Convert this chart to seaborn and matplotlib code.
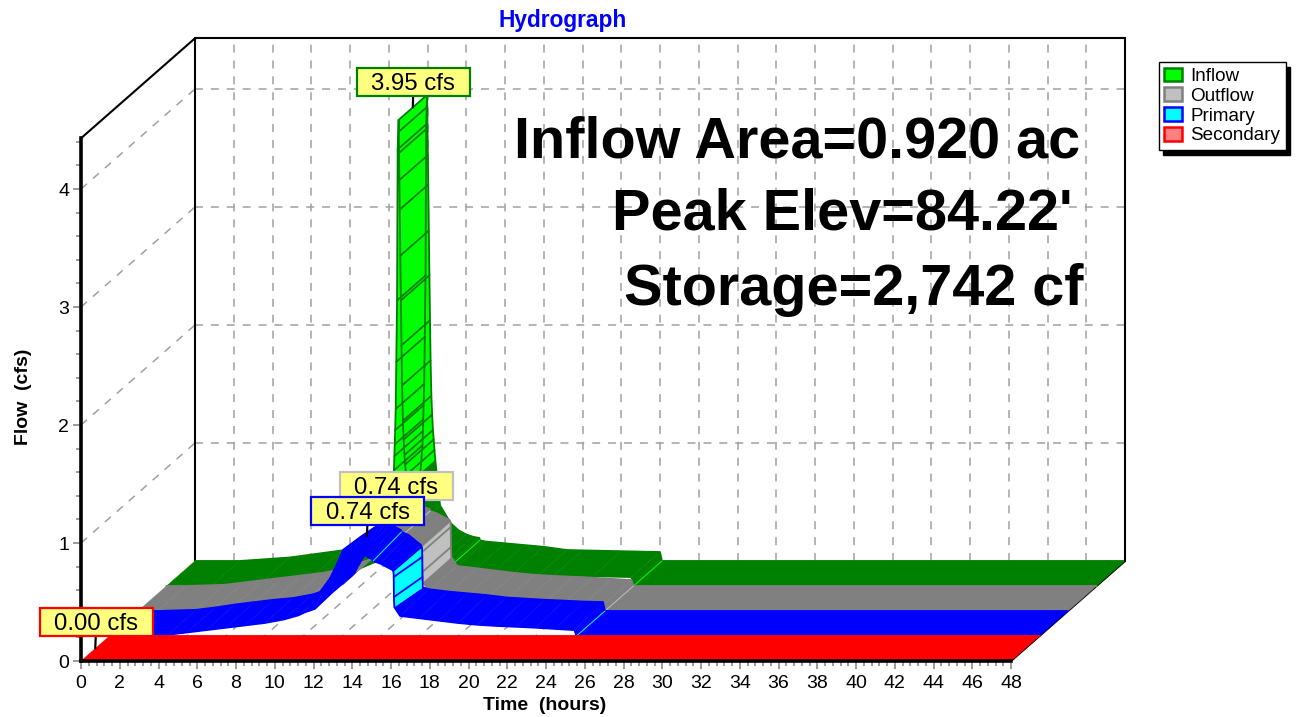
import matplotlib
matplotlib.use("Agg")
import matplotlib.pyplot as plt
import numpy as np
import pandas as pd
import seaborn as sns
from matplotlib.patches import Patch, Polygon
from matplotlib.path import Path

# ---- data (hours, cfs) ----
inflow_t = [0, 2.3, 4.9, 7.6, 9, 10, 11, 11.5, 11.74, 11.76, 11.78, 11.8, 11.83, 11.86, 11.9, 11.93, 11.98, 11.99, 12.0, 12.02, 12.04,
            12.07, 12.1, 12.13, 12.16, 12.2, 12.24, 12.28, 12.32, 12.36, 12.4, 12.48, 12.56, 12.65, 13.2, 13.6,
            14, 14.35, 14.68, 14.7, 15, 16, 17, 18, 19.2, 20, 22, 24, 24.1, 48]
inflow_q = [0, 0, .03, .09, .12, .15, .22, .45, .98, 1.1, 1.2, 1.32, 1.5, 1.9, 2.42, 3.7, 3.95, 3.85, 3.67, 3.44, 3.19,
            2.8, 2.42, 2.04, 1.7, 1.4, 1.24, 1.11, 1.03, .94, .86, .73, .6, .47, .32, .26,
            .225, .205, .195, .175, .165, .15, .135, .12, .093, .09, .083, .076, 0, 0]
route_t = [0, 1, 3, 4, 5, 6, 7, 8, 9, 9.75, 10.07, 10.6, 11.5, 12.5, 12.67, 12.83, 13.03, 13.3, 13.58, 13.6,
           13.96, 14.6, 14.66, 14.67, 14.68, 14.7, 15, 16, 17, 18, 19, 20, 21, 22, 23, 24, 24.1, 48]
route_near = [0, 0, .01, .03, .05, .07, .09, .11, .14, .175, .20, .23, .37, .51, .54, .68, .71, .67, .65, .635,
              .615, .56, .54, .50, .33, .245, .17, .15, .13, .11, .095, .085, .078, .07, .06, .05, 0, 0]
route_far = [0, 0, .01, .03, .055, .075, .095, .11, .14, .18, .32, .52, .63, .74, .74, .74, .73, .71, .685, .67,
             .645, .56, .534, .458, .288, .20, .185, .165, .15, .135, .115, .105, .095, .088, .08, .076, 0, 0]
secondary_t = [0, 48]
secondary_q = [0, 0]

series_names = ["Inflow", "Outflow", "Primary", "Secondary"]
dark_colors = ["#008000", "#808080", "#0000ff", "#ff0000"]
bright_colors = ["#00ff00", "#c0c0c0", "#00ffff", "#ff8080"]

peak_labels = ["3.95 cfs", "0.74 cfs", "0.74 cfs", "0.00 cfs"]
peak_times = [11.98, 12.83, 12.55, 0.0]
peak_flows = [3.95, 0.74, 0.74, 0.0]
peak_depth = [3, 2, 1, 0]
peak_edges = ["#008000", "#c0c0c0", "#0000ff", "#ff0000"]
label_offsets = [(0.5, 23.5), (-4.5, 23.5), (1, 23.5), (1, 24.5)]
info_lines = ["Inflow Area=0.920 ac", "Peak Elev=84.22'", "Storage=2,742 cf"]

# ---- layout (pixels of the 1296x717 picture) ----
W, H = 1296, 717
PX_H, PX_Q = 19.375, 118.0
DX, DY = 28.5 / PX_H, 25.0 / PX_Q     # shift per series in depth, in hours and cfs
T_MAX, Q_TOP = 48, 4.43
DEPTH = 4

sns.set_theme(style="white", rc={"axes.grid": False})
plt.rcParams["font.family"] = ["Liberation Sans", "DejaVu Sans"]
FS = 14

fig = plt.figure(figsize=(W / 100, H / 100), dpi=100, facecolor="white")
ax = fig.add_axes([81 / W, (H - 661) / H, (1124 - 81) / W, (661 - 38) / H])
ax.set_xlim(0, (1124 - 81) / PX_H)
ax.set_ylim(0, (661 - 38) / PX_Q)
ax.patch.set_alpha(0)

# ---- walls and grid ----
grid = dict(color="#a0a0a0", lw=1.1, ls=(0, (5.2, 5.2)), zorder=1)
for t in range(2, T_MAX, 2):
    ax.plot([t + DEPTH * DX] * 2, [DEPTH * DY, Q_TOP + DEPTH * DY], **grid)
for t in range(2, T_MAX + 1, 2):
    ax.plot([t, t + DEPTH * DX], [0, DEPTH * DY], **grid)
for q in range(1, 5):
    ax.plot([DEPTH * DX, T_MAX + DEPTH * DX], [q + DEPTH * DY] * 2, **grid)
    ax.plot([0, DEPTH * DX], [q, q + DEPTH * DY], **grid)
wall = dict(color="black", lw=1.5, zorder=2, clip_on=False)
ax.plot([DEPTH * DX] * 2, [DEPTH * DY, Q_TOP + DEPTH * DY], **wall)
ax.plot([DEPTH * DX, T_MAX + DEPTH * DX], [Q_TOP + DEPTH * DY] * 2, **wall)
ax.plot([T_MAX + DEPTH * DX] * 2, [DEPTH * DY, Q_TOP + DEPTH * DY], **wall)
ax.plot([0, DEPTH * DX], [Q_TOP, Q_TOP + DEPTH * DY], **wall)
ax.plot([T_MAX, T_MAX + DEPTH * DX], [0, DEPTH * DY], **wall)


def ribbon(t, near, far, k, dark, bright, z):
    """Strip for series depth k: near curve in plane k, far curve in plane k+1."""
    t, near, far = map(np.asarray, (t, near, far))
    x0, y0 = t + k * DX, near + k * DY
    x1, y1 = t + (k + 1) * DX, far + (k + 1) * DY
    drop = near[:-1] - near[1:]
    slope = drop * PX_Q / ((t[1:] - t[:-1]) * PX_H)
    steep = np.abs(slope) > 11
    step = (slope > 2.5) & ~steep & (drop <= .08)
    for i in range(len(t) - 1):
        c = bright if steep[i] else dark
        ax.add_patch(Polygon([(x0[i], y0[i]), (x0[i + 1], y0[i + 1]), (x1[i + 1], y1[i + 1]), (x1[i], y1[i])],
                             closed=True, fc=c, ec=c, lw=0.3, zorder=z + (0.2 if steep[i] else 0.0)))
        if steep[i] and i + 1 < len(steep) and steep[i + 1]:
            ax.plot([x0[i + 1], x1[i + 1]], [y0[i + 1], y1[i + 1]], color=dark, lw=1.3, zorder=z + 0.3)
    for xs, ys in ((x0, y0), (x1, y1)):
        edge = pd.DataFrame({"x": xs, "y": ys})
        sns.lineplot(data=edge, x="x", y="y", color=dark, lw=1.3, sort=False, estimator=None,
                     errorbar=None, legend=False, ax=ax, zorder=z + 0.4)
    for i in np.flatnonzero(step):
        ax.plot([x0[i + 1], x1[i + 1]], [y0[i + 1], y1[i + 1]], color=bright, lw=0.7, zorder=z + 0.5)


ribbon(inflow_t, inflow_q, inflow_q, 3, dark_colors[0], bright_colors[0], 3)
ribbon(route_t, route_near, route_near, 2, dark_colors[1], bright_colors[1], 4)
ribbon(route_t, route_near, route_far, 1, dark_colors[2], bright_colors[2], 5)
ribbon(secondary_t, secondary_q, secondary_q, 0, dark_colors[3], bright_colors[3], 6)


# ---- peak labels ----
def box_113x28(x0, y0, w, h, mutation_size=None):
    cx, cy = x0 + w / 2, y0 + h / 2 + 2
    xs, ys = [cx - 56.5, cx + 56.5, cx + 56.5, cx - 56.5, cx - 56.5], [cy - 14, cy - 14, cy + 14, cy + 14, cy - 14]
    return Path(np.column_stack([xs, ys]), closed=True)


for i, txt in enumerate(peak_labels):
    k = peak_depth[i]
    ax.annotate(txt, xy=(peak_times[i] + (k + .5) * DX, peak_flows[i] + (k + .5) * DY),
                xytext=label_offsets[i], textcoords="offset pixels", ha="center", va="center",
                fontsize=17.3, color="black", zorder=8 + (i + 1) % 4 * .1,
                bbox=dict(boxstyle=box_113x28, fc="#ffff80", ec=peak_edges[i], lw=1.6),
                arrowprops=dict(arrowstyle="-", color="black", lw=1.6, shrinkA=0, shrinkB=0))

# ---- axes ----
for s in ("top", "right"):
    ax.spines[s].set_visible(False)
ax.spines["left"].set_bounds(0, Q_TOP)
ax.spines["bottom"].set_bounds(0, T_MAX)
for s in ("left", "bottom"):
    ax.spines[s].set_linewidth(2.6)
    ax.spines[s].set_color("black")
    ax.spines[s].set_zorder(7)
ax.set_xticks(np.arange(0, T_MAX + 1, 2))
ax.set_yticks(np.arange(0, 5, 1))
ax.set_xticks(np.arange(0, T_MAX + .01, .4), minor=True)
ax.set_yticks(np.arange(0, 4.41, .2), minor=True)
ax.tick_params(axis="both", which="major", length=6, width=1.1, color="#808080", labelsize=FS, labelcolor="black", pad=4,
               bottom=True, left=True)
ax.tick_params(axis="both", which="minor", length=3.5, width=1.1, color="#808080", bottom=True, left=True)
ax.tick_params(axis="y", which="major", pad=2.5)
ax.set_xlabel("")
ax.set_ylabel("")

fig.text(545 / W, 1 - 706 / H, "Time  (hours)", ha="center", va="center", fontsize=FS, fontweight="bold", color="black")
fig.text(24 / W, 1 - 397 / H, "Flow  (cfs)", ha="center", va="center", rotation=90, fontsize=FS, fontweight="bold", color="black")
fig.text(563 / W, 1 - 20 / H, "Hydrograph", ha="center", va="center", fontsize=16.4, fontweight="bold", color="#0000ff")

for txt, xr, yb in zip(info_lines, [1080, 1073, 1083], [157, 229, 305]):
    fig.text(xr / W, 1 - yb / H, txt, ha="right", va="baseline", fontsize=41.5, fontweight="bold", color="black")

# ---- legend ----
handles = [Patch(fc=b, ec=d, lw=1.8, label=n) for n, b, d in zip(series_names, bright_colors, dark_colors)]
fig.legend(handles=handles, loc="upper left", bbox_to_anchor=(1158.5 / W, 1 - 62 / H), bbox_transform=fig.transFigure,
           frameon=True, fancybox=False, framealpha=1, facecolor="white", edgecolor="black", fontsize=13.6,
           handlelength=.95, handleheight=.72, handletextpad=.42, labelspacing=.13, borderpad=.3, borderaxespad=0,
           labelcolor="black", shadow=dict(ox=3.4, oy=-3.4, facecolor="black", edgecolor="black", alpha=1))

fig.savefig("out.png", dpi=100, facecolor="white")
